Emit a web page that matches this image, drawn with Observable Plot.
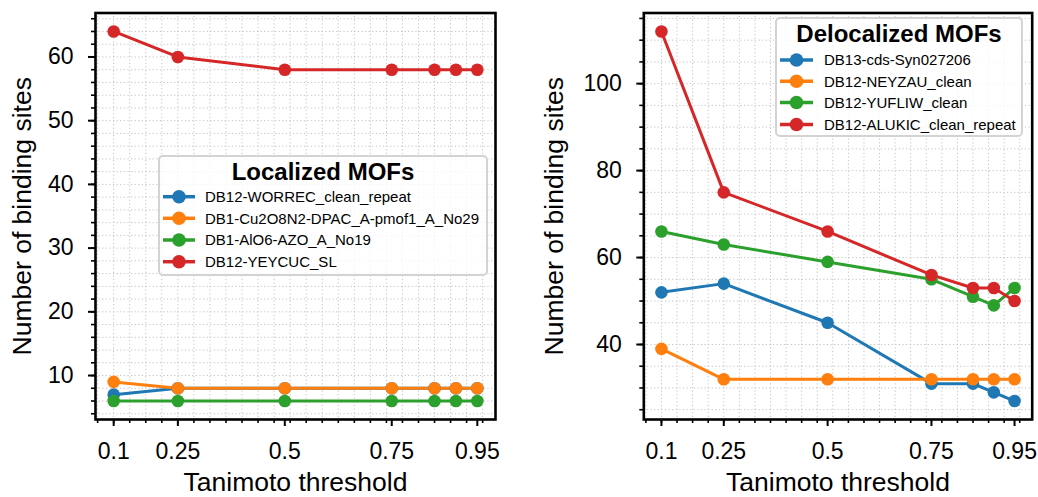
<!DOCTYPE html>
<html><head><meta charset="utf-8">
<script src="https://cdn.jsdelivr.net/npm/d3@7"></script>
<script src="https://cdn.jsdelivr.net/npm/@observablehq/plot@0.6"></script>
<style>
body{margin:0;background:#fff;}
#wrap{position:relative;width:1038px;height:497px;font-family:"Liberation Sans",Arial,sans-serif;}
.panel{position:absolute;top:0;}
.legend{position:absolute;}
</style></head><body><div id="wrap"></div>
<script>
const thresholds = [0.1, 0.25, 0.5, 0.75, 0.85, 0.9, 0.95];
const xTickValues = [0.1, 0.25, 0.5, 0.75, 0.95];

const localizedTitle = "Localized MOFs";
const localizedNames = ["DB12-WORREC_clean_repeat", "DB1-Cu2O8N2-DPAC_A-pmof1_A_No29", "DB1-AlO6-AZO_A_No19", "DB12-YEYCUC_SL"];
const localizedWORREC = [7, 8, 8, 8, 8, 8, 8];
const localizedCu2O8N2 = [9, 8, 8, 8, 8, 8, 8];
const localizedAlO6 = [6, 6, 6, 6, 6, 6, 6];
const localizedYEYCUC = [64, 60, 58, 58, 58, 58, 58];
const leftYTicks = [10, 20, 30, 40, 50, 60];

const delocalizedTitle = "Delocalized MOFs";
const delocalizedNames = ["DB13-cds-Syn027206", "DB12-NEYZAU_clean", "DB12-YUFLIW_clean", "DB12-ALUKIC_clean_repeat"];
const delocalizedCds = [52, 54, 45, 31, 31, 29, 27];
const delocalizedNEYZAU = [39, 32, 32, 32, 32, 32, 32];
const delocalizedYUFLIW = [66, 63, 59, 55, 51, 49, 53];
const delocalizedALUKIC = [112, 75, 66, 56, 53, 53, 50];
const rightYTicks = [40, 60, 80, 100];

const colors = ["#1f77b4", "#ff7f0e", "#2ca02c", "#d62728"];
const FONT = '"Liberation Sans", Arial, sans-serif';

function padDomain(vals) {
  const [a, b] = d3.extent(vals);
  const m = (b - a) * 0.05;
  return [a - m, b + m];
}

function panel(opts) {
  const {names, series, yTicks, yMinorStep, marginLeft, marginRight, ylabelDx} = opts;
  const rows = names.flatMap((n, i) => thresholds.map((t, j) => ({series: n, x: t, y: series[i][j]})));
  const xDomain = padDomain(thresholds);
  const yDomain = padDomain(series.flat());
  const xStep = (xTickValues[1] - xTickValues[0]) / 4;
  const xMinor = d3.range(-2, 40).map(k => xTickValues[0] + k * xStep).filter(v => v >= xDomain[0] && v <= xDomain[1]);
  const yMinor = d3.range(Math.ceil(yDomain[0] / yMinorStep) * yMinorStep, yDomain[1], yMinorStep);
  const gridStyle = {stroke: "#c2c2c2", strokeOpacity: 1, strokeWidth: 1, strokeDasharray: "1.2,2.4"};
  return Plot.plot({
    width: 519, height: 497,
    marginLeft, marginRight, marginTop: 12.5, marginBottom: 78,
    x: {domain: xDomain},
    y: {domain: yDomain},
    color: {domain: names, range: colors},
    style: {fontFamily: FONT, fontSize: "23px", color: "#000", background: "white", overflow: "visible"},
    marks: [
      Plot.gridX(xMinor, gridStyle),
      Plot.gridY(yMinor, gridStyle),
      Plot.axisX(xMinor, {tickSize: 4, tickFormat: () => "", strokeWidth: 1.6, label: null}),
      Plot.axisX(xTickValues, {tickSize: 7, tickPadding: 16, strokeWidth: 2, fontSize: 23, tickFormat: d => String(d), label: null}),
      Plot.axisY(yMinor, {tickSize: 4, tickFormat: () => "", strokeWidth: 1.6, label: null}),
      Plot.axisY(yTicks, {tickSize: 7, tickPadding: 15, strokeWidth: 2, fontSize: 23, tickFormat: d => String(d), label: null}),
      Plot.line(rows, {x: "x", y: "y", z: "series", stroke: "series", strokeWidth: 3}),
      Plot.dot(rows, {x: "x", y: "y", fill: "series", r: 6.3}),
      Plot.frame({stroke: "black", strokeWidth: 2.6}),
      Plot.text(["Tanimoto threshold"], {text: d => d, frameAnchor: "bottom", lineAnchor: "middle", textAnchor: "middle", dy: 63.5, fontSize: 26.5, fill: "black"}),
      Plot.text(["Number of binding sites"], {text: d => d, frameAnchor: "left", textAnchor: "middle", lineAnchor: "middle", rotate: -90, dx: ylabelDx, fontSize: 26.5, fill: "black"})
    ]
  });
}

const wrap = document.getElementById("wrap");
const left = panel({
  names: localizedNames,
  series: [localizedWORREC, localizedCu2O8N2, localizedAlO6, localizedYEYCUC],
  yTicks: leftYTicks, yMinorStep: 2, marginLeft: 95, marginRight: 24, ylabelDx: -73
});
left.classList.add("panel"); left.style.left = "0px";
wrap.appendChild(left);
const right = panel({
  names: delocalizedNames,
  series: [delocalizedCds, delocalizedNEYZAU, delocalizedYUFLIW, delocalizedALUKIC],
  yTicks: rightYTicks, yMinorStep: 5, marginLeft: 124.3, marginRight: 6.3, ylabelDx: -89
});
right.classList.add("panel"); right.style.left = "519px";
wrap.appendChild(right);

function legend({left, top, width, height, title, titleY, names, rowsY, hx0, hx1, textX}) {
  const svg = d3.select(wrap).append("svg")
    .attr("class", "legend")
    .style("left", left + "px").style("top", top + "px")
    .attr("width", width).attr("height", height)
    .style("font-family", FONT);
  svg.append("rect").attr("x", 1).attr("y", 1).attr("width", width - 2).attr("height", height - 2)
    .attr("rx", 4).attr("fill", "white").attr("fill-opacity", 0.8)
    .attr("stroke", "#d3d3d3").attr("stroke-width", 2);
  svg.append("text").attr("x", width / 2).attr("y", titleY).attr("dy", "0.35em")
    .attr("text-anchor", "middle").attr("font-weight", "bold").attr("font-size", 24).text(title);
  names.forEach((n, i) => {
    const g = svg.append("g").attr("transform", `translate(0,${rowsY[i]})`);
    g.append("line").attr("x1", hx0).attr("x2", hx1).attr("stroke", colors[i]).attr("stroke-width", 3.5);
    g.append("circle").attr("cx", (hx0 + hx1) / 2).attr("r", 6.8).attr("fill", colors[i]);
    g.append("text").attr("x", textX).attr("dy", "0.35em").attr("font-size", 15).text(n);
  });
}

legend({left: 158, top: 155, width: 330, height: 121, title: localizedTitle, titleY: 17,
  names: localizedNames, rowsY: [41.7, 63.3, 85, 106.7], hx0: 5, hx1: 37, textX: 47});
legend({left: 775, top: 17, width: 248, height: 120, title: delocalizedTitle, titleY: 17,
  names: delocalizedNames, rowsY: [43, 64.3, 85.5, 107.5], hx0: 5, hx1: 38, textX: 49});
</script></body></html>
